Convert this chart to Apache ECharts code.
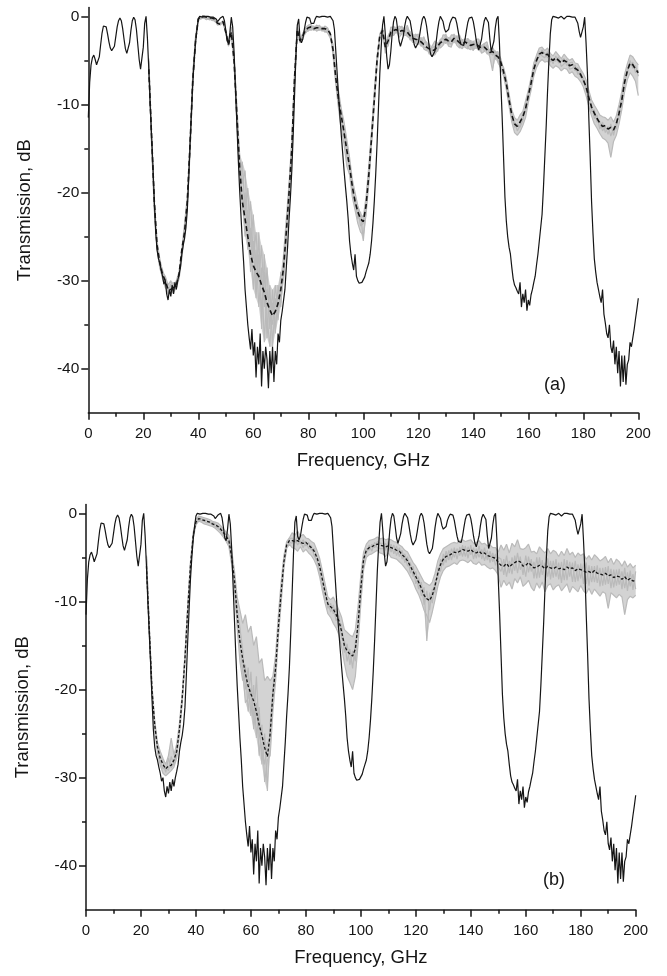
<!DOCTYPE html>
<html>
<head>
<meta charset="utf-8">
<title>Transmission spectra</title>
<script src="https://cdn.jsdelivr.net/npm/echarts@6/dist/echarts.min.js"></script>
<style>
  html, body { margin: 0; padding: 0; background: #fff; }
  #chart { width: 667px; height: 976px; }
</style>
</head>
<body>
<div id="chart"></div>
<script>
// Ideal filter response, 0 to 200 GHz in 0.5 GHz steps (shared by both panels).
const IDEAL_START = 0;
const IDEAL_STEP = 0.5;
const idealDb = [
  -11.5,-7.5,-5.5,-4.7,-4.4,-4.9,-5.5,-5.6,-4.6,-3.2,-1.9,-1.1,-0.9,-1.2,-2.0,-2.9,-3.6,-3.9,-3.9,-3.4,
  -2.3,-1.2,-0.5,-0.2,-0.5,-1.4,-2.6,-3.7,-4.2,-4.1,-3.0,-1.6,-0.5,-0.1,-0.4,-1.5,-3.2,-4.9,-6.0,-6.0,
  -3.5,-0.8,0,-2.5,-6,-10,-13.5,-17,-21,-24.5,-26.5,-27.5,-28,-28.8,-29.5,-30.4,-30,-31.5,-32.2,-31,
  -31.8,-30.5,-31.5,-30.2,-31,-30,-29.3,-28.5,-27,-26,-25.2,-24,-22,-18.5,-14.5,-11,-7.5,-5,-3,-1.5,
  -0.3,0,0,-0.1,0,0,-0.1,0,-0.1,-0.1,0,-0.1,-0.1,-0.3,-0.6,-0.5,-0.2,0,0,-0.5,
  -1.6,-2.8,-3.1,-1.8,-0.1,-1.2,-4,-8,-12,-16,-19.5,-22.5,-25.5,-28,-31,-33,-35,-36.5,-37.8,-35.5,
  -38.5,-37,-41,-37.5,-39.5,-36,-42,-38,-40,-37.5,-39,-42.2,-38,-40.5,-37.5,-41.5,-38,-39.5,-36,-37,
  -34.5,-33.5,-33.5,-31,-28.5,-26,-23,-20.5,-17.5,-13.5,-9,-4.5,-1,-0.3,-2.6,-3.0,-2.6,-1.6,-0.7,-0.1,
  0,-0.2,-0.8,-1,-0.8,-0.3,0,0,-0.1,0,0,-0.1,0,0,-0.1,0,0,0,-0.5,-1.5,
  -4,-6.5,-9,-11.4,-13.5,-15.5,-17.5,-19.3,-21,-23,-25.5,-27,-28,-28.8,-27,-29.5,-30,-30.3,-30.3,-30.2,
  -30,-29.6,-29,-28.5,-28,-27,-25.5,-23.5,-21,-18,-14.5,-10.5,-6.5,-3.5,-1,0,-2,-4.5,-6,-5.5,
  -4,-2,-0.6,0,-0.3,-1.5,-2.8,-3.4,-3.2,-2.3,-1.2,-0.4,0,-0.1,-0.5,-1.4,-2.4,-3.2,-3.6,-3.5,
  -3.0,-2.1,-1.1,-0.3,0,-0.3,-1.1,-2.3,-3.5,-4.3,-4.6,-4.6,-4.0,-2.9,-1.6,-0.6,0,-0.1,-0.6,-1.4,
  -1.8,-1.9,-1.5,-0.8,-0.4,-0.1,0,-0.2,-0.8,-1.7,-2.6,-3.2,-3.4,-3.3,-2.6,-1.6,-0.7,-0.2,0,-0.1,
  -0.6,-1.5,-2.6,-3.4,-3.8,-3.6,-2.6,-1.4,-0.5,-0.1,0,-0.7,-2.5,-4,-4,-2.8,-1.3,-0.3,0,-3,
  -7.5,-11.5,-16,-20.5,-23.2,-25,-26.2,-27,-28.5,-29.8,-30.5,-30.8,-31.2,-31.5,-30.2,-33,-31.5,-32.5,-31,-33.4,
  -32.2,-32.8,-31.6,-31,-30.2,-29.5,-28.2,-27,-25.5,-24,-22.5,-19.5,-16,-12.5,-8.5,-5,-2,-0.4,0,0,
  -0.1,0,-0.2,-0.1,0,-0.1,-0.3,-0.1,0,-0.1,0,-0.2,-0.1,0,-0.1,-0.3,-0.8,-1.7,-2.4,-2.5,
  -1.2,-0.1,-3,-6.5,-11.5,-16,-21,-24.5,-27.5,-29,-30.2,-31,-31.8,-32.5,-31,-33.8,-34.8,-36,-36.5,-35,
  -37.5,-38.2,-36.8,-39.5,-37.5,-40.5,-38,-42,-38.5,-41.5,-38.5,-41.8,-39.5,-39,-37,-37.5,-36.5,-35.5,-34.3,-33.2,
  -32
];

// Measured realisations and their mean, 22 to 200 GHz in 1 GHz steps.
const RUN_START = 22;
const RUN_STEP = 1;

// Panel (a)
const meanA = [
  -6,-13.5,-21,-26,-28,-29.3,-30,-31,-31,-30.8,-30.5,-29.3,-26.5,-24.5,-21,-14.5,-7.2,-2.8,
  -0.3,0,0,-0.1,-0.2,-0.2,-0.3,-0.8,-0.9,-0.6,-1.8,-3.2,-1.8,
  -5,-11,-17,-21,-23,-25,-27,-28.3,-29,-29.5,-30.5,-31.3,-32.5,-33.3,-34,-33.5,-32.6,-31,-28.5,-24.5,-20,-15,-7,
  -1.5,-2.8,-2.2,-1.6,-1.3,-1.2,-1.4,-1.3,-1.3,-1.4,-1.4,-1.5,-2.0,
  -3.8,-7,-9.5,-11.3,-13.2,-15.2,-17,-19.3,-21,-22.2,-23,-23.3,-21.5,-18,-13.8,-9.5,-5,-2.2,-1.6,
  -3.5,-2.8,-1.8,-1.6,-1.5,-1.8,-1.6,-1.7,-1.8,-2.2,-2.5,-2.6,-2.7,-2.9,-3.2,-3.5,-3.7,-3.9,-3.8,-3.4,
  -3.0,-2.8,-2.6,-2.8,-2.9,-2.5,-2.7,-3.0,-3.2,-2.9,-3.1,-3.3,-3.2,-3.1,-3.4,-3.6,-3.5,-3.8,-4.1,-4.0,
  -4.4,-4.6,-5.2,
  -6.3,-7.6,-9.5,-11.2,-12.2,-12.5,-12.0,-11.4,-10.5,-9.0,-7.6,-6.0,-5.0,-4.3,-4.1,-4.4,-4.3,-4.8,-5.0,-4.7,
  -5.0,-5.3,-5.0,-5.2,-5.6,-5.5,-5.9,-6.1,-6.6,-7.2,-8.0,-9.2,-10.3,-11.0,-11.6,-12.1,-12.5,-12.4,-12.8,-12.6,
  -12.9,-12.2,-11.0,-9.5,-7.5,-6.2,-5.3,-5.5,-6.0,-6.4
];
const runA1 = [
  -5,-14,-21,-25.5,-27.5,-29,-29.5,-30.5,-30,-31,-30,-29,-26.5,-23.5,-20.5,-14.5,-6.5,-2.3,
  -0.3,-0.1,-0.2,-0.3,-0.2,-0.4,-0.5,-0.9,-0.8,-0.7,-1.9,-3.3,-1.8,
  -4.5,-10,-15.5,-19,-17.5,-24,-21,-27.5,-24.5,-30,-26,-33,-28.5,-35.5,-31,-36,-30.5,-33,-27,-23,-19,-14,-6.5,
  -1.2,-2.6,-2.0,-1.3,-1.0,-0.9,-1.6,-1.0,-1.2,-1.7,-1.1,-1.3,-2.2,
  -3.2,-6.5,-8.5,-10.5,-12,-14,-16,-18.5,-20,-21.5,-22.5,-22.8,-20.5,-17,-13,-8.5,-4.5,-2,-1.3,
  -3.0,-3.1,-1.2,-1.4,-1.9,-1.1,-1.3,-1.9,-1.0,-2.1,-3.0,-2.0,-2.4,-3.3,-2.3,-3.3,-4.3,-3.4,-2.8,-3.2,
  -3.3,-2.1,-2.2,-3.3,-2.1,-2.2,-2.9,-2.1,-3.1,-3.3,-2.5,-3.1,-3.9,-2.6,-2.6,-3.7,-3.1,-2.9,-4.4,-3.5,
  -4.2,-4.0,-5.4,
  -5.8,-7.0,-8.8,-10.6,-11.5,-11.8,-11.2,-10.8,-9.6,-8.4,-7.0,-5.3,-4.4,-3.6,-3.5,-3.9,-3.6,-4.2,-4.5,-4.0,
  -4.4,-4.8,-4.3,-4.7,-5.0,-4.8,-5.3,-5.4,-6.0,-6.5,-7.2,-8.4,-9.5,-10.1,-10.6,-11.2,-11.4,-11.5,-11.8,-11.4,
  -12.0,-11.3,-10.0,-8.5,-6.6,-5.4,-4.4,-4.6,-5.1,-5.5
];
const runA2 = [
  -5.2,-14.5,-22,-26.2,-28.3,-29.8,-30.8,-31.2,-31.5,-30.2,-30.8,-29.8,-27.5,-24.5,-21.5,-15.5,-7.5,-2.7,
  -0.5,-0.2,-0.1,-0.2,-0.4,-0.3,-0.6,-0.7,-1.0,-0.6,-1.6,-3.0,-2.2,
  -5.5,-12,-18,-16.5,-22.5,-19.5,-26,-22.5,-30.5,-27,-33.5,-29,-36.5,-30.5,-37.5,-32,-34.5,-29,-30,-25,-21,-15.5,-7.5,
  -1.8,-3.0,-2.5,-1.9,-1.5,-1.4,-1.1,-1.7,-1.5,-1.2,-1.8,-1.6,-1.8,
  -4.5,-7.8,-10.5,-12.8,-14.5,-17,-18,-20.5,-22,-23.5,-24.5,-24.8,-22.5,-19,-14.5,-10,-5.5,-2.5,-1.8,
  -3.8,-2.4,-2.3,-1.9,-1.2,-2.4,-2.0,-1.3,-2.3,-2.5,-2.0,-3.1,-3.2,-2.4,-3.7,-3.9,-3.1,-4.6,-4.2,-3.0,
  -3.6,-3.3,-2.0,-3.4,-3.5,-2.0,-3.3,-3.6,-2.6,-3.5,-3.7,-2.7,-3.7,-3.6,-2.9,-4.2,-4.0,-3.2,-4.6,-6.2,
  -3.9,-5.3,-5.8,
  -6.8,-8.3,-10.2,-12.0,-13.2,-13.5,-13.1,-12.4,-11.5,-9.8,-8.4,-6.8,-5.8,-5.2,-4.9,-5.2,-5.1,-5.6,-5.9,-5.6,
  -5.8,-6.2,-5.9,-6.0,-6.5,-6.3,-6.8,-7.0,-7.4,-8.0,-9.0,-10.2,-11.3,-12.2,-12.7,-13.3,-13.8,-14.0,-14.4,-16.0,
  -14.2,-13.5,-12.2,-10.6,-8.6,-7.2,-6.4,-6.8,-7.4,-9.0
];
const runA3 = [
  -4.8,-13.5,-21.2,-25.8,-28,-28.8,-30.2,-30.8,-31.2,-30.6,-31,-29.2,-27,-24,-20.8,-14.8,-6.8,-2.4,
  -0.2,-0.3,-0.1,-0.1,-0.3,-0.2,-0.4,-1.0,-0.9,-0.5,-2.0,-3.4,-1.2,
  -4.8,-11.5,-16.5,-22,-20,-26.5,-24,-31,-26.5,-33,-28.5,-37,-31,-33.5,-35,-30.5,-33.5,-31.5,-28.5,-24,-20.5,-15,-7,
  -1.4,-2.9,-1.9,-1.5,-1.7,-1.2,-1.5,-1.4,-1.0,-1.5,-1.6,-1.9,-2.5,
  -3.6,-6.8,-9.2,-11,-13.5,-14.5,-17.5,-19,-21.5,-21.8,-23.8,-23.5,-21,-17.5,-13.2,-9,-4.8,-2.1,-1.5,
  -4.2,-2.2,-1.6,-2.2,-1.6,-1.5,-1.1,-2.2,-2.0,-1.7,-2.9,-2.3,-2.0,-3.4,-3.0,-2.9,-4.1,-3.6,-3.4,-4.0,
  -2.6,-2.5,-3.1,-2.4,-2.6,-3.0,-2.2,-3.4,-3.7,-2.5,-3.6,-3.8,-2.8,-3.5,-3.9,-3.3,-3.1,-4.3,-3.8,-3.6,
  -4.9,-4.2,-4.8,
  -6.0,-7.9,-9.0,-11.8,-12.0,-13.0,-12.4,-11.0,-10.8,-8.8,-7.9,-5.8,-5.3,-4.0,-4.5,-4.7,-4.0,-5.2,-4.8,-5.1,
  -4.6,-5.7,-5.4,-4.9,-6.0,-5.9,-5.5,-6.6,-6.2,-7.5,-7.8,-9.8,-10.0,-11.6,-11.2,-12.8,-12.0,-13.2,-12.5,-13.6,
  -12.6,-12.8,-10.6,-9.8,-7.2,-6.6,-5.0,-5.9,-5.6,-6.8
];
const runA4 = [
  -5.1,-14.2,-21.8,-26.4,-28.6,-29.6,-29.8,-31.6,-30.4,-31.4,-30.4,-29.6,-27.2,-24.6,-21.2,-15.2,-7.2,-2.6,
  -0.4,0,-0.2,-0.4,-0.1,-0.5,-0.3,-0.8,-0.7,-0.8,-1.7,-3.1,-1.6,
  -5.2,-10.5,-17.5,-20.5,-25,-22,-29,-25.5,-32,-24.5,-35.5,-27,-34,-37.5,-32.5,-35.5,-31.5,-32.5,-29.5,-25.5,-19.5,-14.5,-6.8,
  -1.6,-2.7,-2.3,-1.8,-1.2,-1.6,-1.3,-1.2,-1.6,-1.3,-1.4,-1.4,-1.9,
  -4.0,-7.2,-10,-12,-12.8,-16,-16.8,-20,-20.8,-23,-22.2,-25.5,-22,-18.5,-14.2,-9.8,-5.2,-2.3,-1.9,
  -3.4,-3.4,-2.0,-1.1,-1.8,-2.0,-1.9,-1.5,-1.4,-2.7,-2.2,-2.8,-3.0,-2.6,-3.5,-3.6,-3.4,-3.9,-4.4,-3.7,
  -2.7,-3.0,-2.9,-2.9,-3.2,-2.7,-3.1,-2.6,-3.4,-3.0,-2.8,-3.5,-3.4,-2.9,-3.8,-3.4,-3.9,-3.6,-4.0,-4.4,
  -4.1,-4.9,-6.0,
  -6.6,-7.4,-9.8,-10.9,-12.6,-12.2,-12.6,-11.8,-10.2,-9.4,-7.4,-6.4,-4.7,-4.6,-3.8,-4.2,-4.7,-4.5,-5.4,-4.5,
  -5.3,-5.0,-4.8,-5.6,-5.3,-5.2,-6.2,-5.8,-6.9,-7.0,-8.3,-9.0,-10.8,-10.6,-12.0,-11.9,-13.0,-12.5,-13.4,-12.2,
  -13.5,-12.0,-11.4,-9.2,-7.8,-6.0,-5.6,-5.2,-6.4,-6.1
];

// Panel (b)
const meanB = [
  -6,-13,-20,-24,-26.5,-27.8,-28.5,-29,-28.7,-28.6,-28,-27,-24.5,-21,-16.5,-11,-6,-2.5,
  -1.0,-0.6,-0.7,-0.8,-0.9,-1.0,-1.2,-1.3,-1.5,-1.8,-2.2,-2.6,-3.1,
  -5,-7.5,-11.5,-14.5,-16.5,-18.2,-19.6,-20.5,-21.3,-22.5,-24,-25.2,-26.6,-27.6,-25,-20.5,-17.5,-12.9,-9,-5.5,-3.6,-3.1,
  -3.1,-3.2,-3.1,-3.3,-3.4,-3.3,-3.6,-3.9,-4.3,-5.0,-6.0,-7.5,-9.0,-10.3,
  -10.6,-10.9,-11.5,-12.2,-13.4,-15.0,-15.6,-16.0,-16.2,-15.4,-12.5,-8.5,-5.2,-4.2,-3.9,-3.8,-3.6,-3.5,-3.6,
  -3.7,-3.8,-3.7,-3.9,-4.0,-4.2,-4.3,-4.7,-5.0,-5.4,-6.0,-6.6,-7.2,-7.8,-8.5,-9.3,-9.7,-9.9,-9.3,-8.2,
  -6.8,-5.8,-5.2,-4.9,-4.8,-4.6,-4.4,-4.5,-4.3,-4.1,-4.2,-4.3,-4.1,-4.4,-4.5,-4.3,-4.6,-4.5,-4.8,-4.9,
  -5.0,-5.1,-5.6,
  -5.9,-6.0,-5.7,-6.1,-5.8,-5.6,-5.4,-5.5,-6.0,-5.9,-5.6,-5.9,-6.2,-6.1,-5.9,-6.0,-6.3,-6.0,-6.2,-6.3,
  -6.1,-6.3,-6.2,-6.4,-6.1,-6.3,-6.2,-6.5,-6.3,-6.4,-6.5,-6.7,-6.6,-6.8,-6.5,-6.8,-6.9,-7.0,-6.8,-7.1,
  -7.0,-7.3,-7.1,-7.2,-7.5,-7.2,-7.6,-7.4,-7.7,-7.6
];
const runB1 = [
  -4.8,-12.5,-19.5,-23.5,-26,-27,-27.8,-28.5,-27.5,-25.5,-27.4,-26.2,-23.8,-20.5,-16,-10.5,-5.5,-2.2,
  -0.7,-0.3,-0.4,-0.5,-0.6,-0.7,-0.9,-1.0,-1.1,-1.4,-1.8,-2.1,-2.5,
  -4.2,-6.5,-9.5,-11.0,-12.5,-11.5,-13.5,-12.8,-15.0,-14.0,-17.0,-16.5,-19.0,-18.5,-19.0,-18.5,-16.0,-11.5,-7.8,-4.8,-3.2,-2.8,
  -2.2,-2.5,-2.0,-2.6,-2.4,-2.8,-2.9,-3.2,-3.4,-4.2,-5.1,-6.5,-8.0,-9.5,
  -9.8,-9.5,-10.2,-11.0,-11.8,-13.2,-13.5,-13.8,-14.0,-13.2,-10.5,-7.0,-4.4,-3.5,-3.1,-3.0,-2.9,-2.7,-2.9,
  -2.8,-3.0,-2.9,-3.0,-3.2,-3.3,-3.6,-3.8,-4.2,-4.4,-5.0,-5.6,-6.0,-6.6,-7.2,-7.8,-8.0,-8.2,-7.8,-6.8,
  -5.4,-4.6,-4.0,-3.8,-3.6,-3.4,-3.3,-3.4,-3.1,-3.0,-3.2,-3.1,-3.0,-3.4,-3.3,-3.1,-3.5,-3.4,-3.7,-3.6,
  -3.9,-3.9,-4.4,
  -3.6,-4.2,-3.5,-4.5,-3.4,-3.8,-3.0,-4.0,-4.1,-3.9,-3.5,-4.4,-4.3,-4.6,-3.8,-4.2,-4.5,-4.0,-4.6,-4.2,
  -4.4,-4.9,-4.3,-4.8,-4.0,-4.7,-4.4,-5.0,-4.5,-4.8,-4.6,-5.2,-4.8,-5.3,-4.7,-5.0,-5.4,-5.2,-4.9,-5.6,
  -5.1,-5.8,-5.2,-5.5,-6.0,-5.4,-6.1,-5.7,-6.2,-5.9
];
const runB2 = [
  -5.2,-13.5,-20.5,-24.6,-27.2,-28.6,-29.5,-29.8,-29.5,-29.2,-28.8,-27.8,-25.2,-21.5,-17,-11.5,-6.4,-2.8,
  -1.3,-0.9,-1.0,-1.2,-1.3,-1.4,-1.5,-1.7,-2.0,-2.3,-2.7,-3.2,-3.8,
  -5.8,-8.6,-13.0,-16.8,-19.0,-17.2,-22.5,-19.8,-24.5,-21.5,-27.5,-24.0,-30.5,-28.0,-27.5,-22.5,-19.0,-14.0,-10.2,-6.2,-4.0,-3.5,
  -3.9,-4.0,-4.3,-3.8,-4.4,-4.1,-4.5,-4.8,-5.3,-6.0,-7.2,-8.8,-10.2,-11.4,
  -11.8,-12.5,-13.0,-13.8,-15.2,-17.0,-18.5,-19.2,-20.0,-18.5,-14.8,-10.2,-6.4,-5.0,-4.7,-4.6,-4.4,-4.2,-4.5,
  -4.6,-4.9,-4.5,-5.0,-5.1,-5.2,-5.5,-5.8,-6.2,-6.6,-7.2,-7.8,-8.6,-9.2,-10.0,-11.0,-11.6,-12.4,-11.2,-9.8,
  -8.3,-7.2,-6.5,-6.1,-6.0,-5.8,-5.6,-5.8,-5.4,-5.3,-5.4,-5.6,-5.3,-5.7,-5.8,-5.5,-5.9,-5.8,-6.1,-6.3,
  -6.2,-6.5,-7.0,
  -8.4,-7.6,-8.2,-7.8,-8.6,-7.4,-7.9,-7.2,-8.3,-8.0,-7.6,-8.4,-8.8,-7.9,-8.5,-7.8,-8.9,-8.2,-8.0,-8.7,
  -8.3,-8.1,-8.8,-8.4,-8.0,-9.0,-8.3,-8.6,-8.9,-8.2,-8.8,-9.1,-8.5,-9.2,-8.6,-9.0,-9.4,-8.9,-9.1,-10.8,
  -9.0,-9.3,-9.6,-9.2,-9.5,-11.5,-9.8,-9.4,-9.6,-9.3
];
const runB3 = [
  -5,-13,-20.2,-24.2,-26.4,-27.6,-28.2,-29.4,-27.8,-28.9,-28.3,-26.8,-24.6,-21.2,-16.8,-11.2,-6.2,-2.6,
  -0.9,-0.5,-0.6,-0.7,-0.8,-1.1,-1.0,-1.2,-1.4,-1.6,-2.0,-2.4,-2.9,
  -4.6,-7.2,-10.8,-13.0,-15.5,-20.0,-17.5,-23.0,-19.5,-25.5,-22.0,-28.5,-25.0,-31.5,-24.0,-19.8,-17.0,-12.5,-8.6,-5.2,-3.4,-2.9,
  -2.8,-3.4,-2.6,-3.5,-3.0,-3.7,-3.3,-4.2,-4.0,-4.8,-5.6,-7.0,-8.6,-10.8,
  -10.2,-11.4,-10.8,-12.8,-12.6,-15.8,-14.8,-17.2,-15.6,-16.8,-12.0,-9.0,-5.0,-4.0,-4.2,-3.5,-3.9,-3.2,-3.4,
  -3.4,-4.2,-3.2,-4.4,-3.6,-4.8,-3.9,-5.2,-4.6,-6.0,-5.6,-7.2,-6.6,-8.6,-7.8,-10.4,-8.8,-11.0,-8.6,-9.0,
  -6.2,-6.6,-4.6,-5.6,-4.2,-5.3,-3.9,-5.2,-3.8,-4.9,-3.7,-5.1,-3.6,-5.2,-4.0,-5.0,-4.1,-5.4,-4.2,-5.6,
  -4.5,-5.9,-5.0,
  -5.2,-7.0,-4.8,-6.8,-5.0,-6.5,-4.5,-6.4,-5.6,-7.2,-4.9,-6.6,-5.5,-7.4,-5.0,-7.0,-5.6,-7.2,-5.4,-7.3,
  -5.2,-7.5,-5.5,-7.6,-5.3,-7.2,-5.6,-7.8,-5.8,-7.4,-5.7,-8.0,-5.9,-7.8,-6.0,-7.9,-6.2,-8.2,-6.1,-8.0,
  -6.3,-8.4,-6.4,-8.1,-6.6,-8.5,-6.7,-8.3,-6.9,-8.6
];
const runB4 = [
  -4.9,-12.8,-19.8,-23.8,-26.8,-28.2,-29,-28.8,-29.2,-27.6,-28.6,-27.4,-24.2,-20.8,-16.2,-10.8,-5.8,-2.4,
  -1.1,-0.8,-0.8,-0.9,-1.1,-1.0,-1.3,-1.5,-1.7,-2.0,-2.5,-3.0,-3.4,
  -5.4,-8.0,-12.2,-15.0,-17.8,-21.5,-21.0,-18.0,-23.5,-18.5,-25.0,-27.0,-28.5,-26.0,-26.0,-21.0,-18.2,-13.5,-9.5,-5.8,-3.8,-3.3,
  -3.4,-2.9,-3.6,-3.1,-3.9,-3.2,-4.0,-3.7,-4.8,-5.4,-6.5,-8.2,-9.8,-10.0,
  -11.2,-10.4,-12.2,-11.6,-14.2,-14.4,-16.8,-15.4,-17.6,-14.6,-13.4,-8.2,-5.8,-4.6,-3.6,-4.3,-3.3,-3.9,-4.0,
  -4.0,-3.4,-4.3,-3.5,-4.6,-3.7,-4.9,-4.2,-5.6,-4.9,-6.8,-6.0,-8.0,-7.2,-9.4,-8.4,-14.5,-9.0,-10.2,-7.6,
  -7.4,-5.2,-5.9,-4.3,-5.3,-4.0,-5.0,-4.0,-4.8,-3.6,-4.9,-3.8,-4.7,-3.9,-5.1,-3.7,-5.2,-3.9,-5.3,-4.3,
  -5.5,-4.6,-6.1,
  -6.6,-5.2,-7.2,-5.4,-6.9,-4.8,-6.8,-4.9,-7.0,-4.8,-6.7,-5.2,-7.4,-5.0,-7.3,-5.3,-7.6,-5.1,-7.5,-5.4,
  -7.2,-5.6,-7.9,-5.2,-7.6,-5.5,-7.8,-5.4,-7.7,-5.7,-8.0,-5.6,-8.2,-6.0,-7.8,-5.9,-8.3,-6.2,-8.1,-6.0,
  -8.5,-6.4,-8.2,-6.3,-8.6,-6.2,-8.8,-6.5,-8.7,-6.6
];

// Axis ticks
const Y_MAJOR = [-40, -30, -20, -10, 0];
const Y_MINOR = [-35, -25, -15, -5];

const RUN_COUNT = (200 - RUN_START) / RUN_STEP + 1;
[meanA, runA1, runA2, runA3, runA4, meanB, runB1, runB2, runB3, runB4].forEach((arr, i) => {
  if (arr.length !== RUN_COUNT) throw new Error('series ' + i + ' has ' + arr.length + ' values, expected ' + RUN_COUNT);
});
if (idealDb.length !== 401) throw new Error('idealDb has ' + idealDb.length + ' values');

function toPairs(start, step, values) {
  return values.map((v, i) => [start + i * step, v]);
}

const FONT = "'Liberation Sans', Arial, Helvetica, sans-serif";
const INK = '#151515';
const GRAY = '#bababa';
const SPREAD = '#d3d3d3';
const axisLine = { color: INK, width: 1.5 };

function xAxisFor(grid) {
  return {
    type: 'value', gridIndex: grid, min: 0, max: 200, interval: 20,
    axisLine: { show: true, onZero: false, lineStyle: axisLine },
    axisTick: { show: true, length: 7, lineStyle: axisLine },
    minorTick: { show: true, splitNumber: 2, length: 4, lineStyle: axisLine },
    axisLabel: { margin: 14, fontSize: 15, color: INK, fontFamily: FONT },
    splitLine: { show: false }, minorSplitLine: { show: false },
    name: 'Frequency, GHz', nameLocation: 'middle', nameGap: 39, nameMoveOverlap: false,
    nameTextStyle: { fontSize: 18.5, color: INK, fontFamily: FONT }
  };
}
function yAxisMajor(grid) {
  return {
    type: 'value', gridIndex: grid, position: 'left', min: -45, max: 1,
    axisLine: { show: true, onZero: false, lineStyle: axisLine },
    axisTick: { show: true, customValues: Y_MAJOR, length: 7, lineStyle: axisLine },
    axisLabel: { customValues: Y_MAJOR, margin: 9, fontSize: 15.5, color: INK, fontFamily: FONT },
    splitLine: { show: false },
    name: 'Transmission, dB', nameLocation: 'middle', nameGap: 54, nameRotate: 90, nameMoveOverlap: false,
    nameTextStyle: { fontSize: 18.5, color: INK, fontFamily: FONT }
  };
}
function yAxisMinor(grid) {
  return {
    type: 'value', gridIndex: grid, position: 'left', min: -45, max: 1,
    axisLine: { show: false, onZero: false },
    axisTick: { show: true, customValues: Y_MINOR, length: 4, lineStyle: axisLine },
    axisLabel: { show: false },
    splitLine: { show: false }
  };
}

// Shaded spread between the lowest and highest realisation at each frequency,
// drawn as one polygon through the axis scales.
function spreadSeries(runs, xi, yi) {
  const points = runs[0].map((_, i) => [
    RUN_START + i * RUN_STEP,
    Math.min(...runs.map(r => r[i])),
    Math.max(...runs.map(r => r[i]))
  ]);
  return {
    type: 'custom', coordinateSystem: 'cartesian2d', xAxisIndex: xi, yAxisIndex: yi,
    silent: true, z: 0, clip: true,
    data: [[points[0][0], points[0][1]]],
    renderItem: (params, api) => {
      const upper = points.map(p => api.coord([p[0], p[2]]));
      const lower = points.map(p => api.coord([p[0], p[1]])).reverse();
      return { type: 'polygon', shape: { points: upper.concat(lower) }, style: { fill: SPREAD, stroke: null } };
    }
  };
}
function runSeries(runs, xi, yi) {
  return runs.map((r, k) => ({
    type: 'line', name: 'run ' + (k + 1), xAxisIndex: xi, yAxisIndex: yi,
    data: toPairs(RUN_START, RUN_STEP, r),
    showSymbol: false, silent: true,
    lineStyle: { color: GRAY, width: 1.2 }, z: 1
  }));
}
function idealSeries(xi, yi) {
  return {
    type: 'line', name: 'ideal', xAxisIndex: xi, yAxisIndex: yi,
    data: toPairs(IDEAL_START, IDEAL_STEP, idealDb),
    showSymbol: false, silent: true,
    lineStyle: { color: INK, width: 1.2 }, z: 3
  };
}
function meanSeries(values, xi, yi, dash, width) {
  return {
    type: 'line', name: 'mean', xAxisIndex: xi, yAxisIndex: yi,
    data: toPairs(RUN_START, RUN_STEP, values),
    showSymbol: false, silent: true,
    lineStyle: { color: INK, width: width, type: dash }, z: 4
  };
}

const runsA = [runA1, runA2, runA3, runA4];
const runsB = [runB1, runB2, runB3, runB4];

const chart = echarts.init(document.getElementById('chart'), null, { renderer: 'canvas' });
chart.setOption({
  animation: false,
  backgroundColor: '#ffffff',
  textStyle: { fontFamily: FONT },
  grid: [
    { left: 88.3, right: 28.7, top: 7.5, height: 405.3, outerBoundsMode: 'none' },
    { left: 86, right: 31.3, top: 504.5, height: 405.3, outerBoundsMode: 'none' }
  ],
  xAxis: [xAxisFor(0), xAxisFor(1)],
  yAxis: [yAxisMajor(0), yAxisMinor(0), yAxisMajor(1), yAxisMinor(1)],
  series: [
    spreadSeries(runsA, 0, 0),
    ...runSeries(runsA, 0, 0),
    idealSeries(0, 0),
    meanSeries(meanA, 0, 0, [5, 3], 1.6),
    spreadSeries(runsB, 1, 2),
    ...runSeries(runsB, 1, 2),
    idealSeries(1, 2),
    meanSeries(meanB, 1, 2, [3, 2], 1.3)
  ],
  graphic: [
    { type: 'text', x: 555, y: 385, style: { text: '(a)', fontSize: 18, fill: INK, fontFamily: FONT, align: 'center', verticalAlign: 'middle' } },
    { type: 'text', x: 554, y: 880, style: { text: '(b)', fontSize: 18, fill: INK, fontFamily: FONT, align: 'center', verticalAlign: 'middle' } }
  ]
});
</script>
</body>
</html>
